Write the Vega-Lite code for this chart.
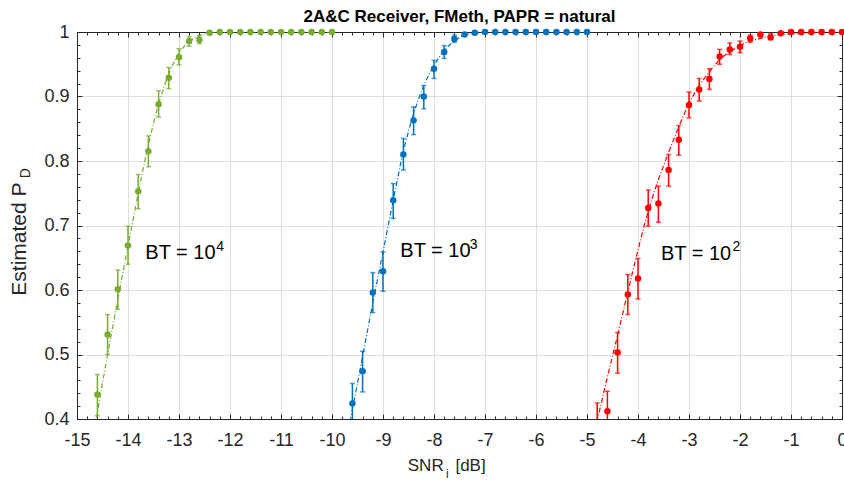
{
  "$schema": "https://vega.github.io/schema/vega-lite/v6.json",
  "width": 765,
  "height": 387,
  "autosize": "none",
  "padding": {"left": 77, "top": 32, "right": 2, "bottom": 64},
  "background": "white",
  "config": {"view": {"stroke": null}, "font": "Liberation Sans"},
  "title": {"text": "2A&C Receiver, FMeth, PAPR = natural", "fontSize": 17, "fontWeight": "bold", "font": "Liberation Sans", "color": "#000000", "anchor": "middle", "offset": -3},
  "datasets": {
    "points": [
      {"bt": "1e4", "snr": -14.6, "pd": 0.438, "lo": 0.405, "hi": 0.469},
      {"bt": "1e4", "snr": -14.4, "pd": 0.531, "lo": 0.500, "hi": 0.562},
      {"bt": "1e4", "snr": -14.2, "pd": 0.601, "lo": 0.570, "hi": 0.631},
      {"bt": "1e4", "snr": -14.0, "pd": 0.669, "lo": 0.640, "hi": 0.699},
      {"bt": "1e4", "snr": -13.8, "pd": 0.753, "lo": 0.726, "hi": 0.779},
      {"bt": "1e4", "snr": -13.6, "pd": 0.815, "lo": 0.791, "hi": 0.839},
      {"bt": "1e4", "snr": -13.4, "pd": 0.888, "lo": 0.868, "hi": 0.909},
      {"bt": "1e4", "snr": -13.2, "pd": 0.929, "lo": 0.912, "hi": 0.945},
      {"bt": "1e4", "snr": -13.0, "pd": 0.961, "lo": 0.949, "hi": 0.974},
      {"bt": "1e4", "snr": -12.8, "pd": 0.986, "lo": 0.978, "hi": 0.993},
      {"bt": "1e4", "snr": -12.6, "pd": 0.988, "lo": 0.982, "hi": 0.995},
      {"bt": "1e4", "snr": -12.4, "pd": 0.999},
      {"bt": "1e4", "snr": -12.2, "pd": 1.0},
      {"bt": "1e4", "snr": -12.0, "pd": 1.0},
      {"bt": "1e4", "snr": -11.8, "pd": 1.0},
      {"bt": "1e4", "snr": -11.6, "pd": 1.0},
      {"bt": "1e4", "snr": -11.4, "pd": 1.0},
      {"bt": "1e4", "snr": -11.2, "pd": 1.0},
      {"bt": "1e4", "snr": -11.0, "pd": 1.0},
      {"bt": "1e4", "snr": -10.8, "pd": 1.0},
      {"bt": "1e4", "snr": -10.6, "pd": 1.0},
      {"bt": "1e4", "snr": -10.4, "pd": 1.0},
      {"bt": "1e4", "snr": -10.2, "pd": 1.0},
      {"bt": "1e4", "snr": -10.0, "pd": 1.0},
      {"bt": "1e3", "snr": -9.6, "pd": 0.424, "lo": 0.395, "hi": 0.455},
      {"bt": "1e3", "snr": -9.4, "pd": 0.474, "lo": 0.442, "hi": 0.505},
      {"bt": "1e3", "snr": -9.2, "pd": 0.596, "lo": 0.565, "hi": 0.627},
      {"bt": "1e3", "snr": -9.0, "pd": 0.629, "lo": 0.598, "hi": 0.659},
      {"bt": "1e3", "snr": -8.8, "pd": 0.739, "lo": 0.711, "hi": 0.765},
      {"bt": "1e3", "snr": -8.6, "pd": 0.810, "lo": 0.786, "hi": 0.835},
      {"bt": "1e3", "snr": -8.4, "pd": 0.863, "lo": 0.841, "hi": 0.884},
      {"bt": "1e3", "snr": -8.2, "pd": 0.900, "lo": 0.881, "hi": 0.917},
      {"bt": "1e3", "snr": -8.0, "pd": 0.943, "lo": 0.928, "hi": 0.956},
      {"bt": "1e3", "snr": -7.8, "pd": 0.969, "lo": 0.959, "hi": 0.979},
      {"bt": "1e3", "snr": -7.6, "pd": 0.989, "lo": 0.984, "hi": 0.995},
      {"bt": "1e3", "snr": -7.4, "pd": 0.996},
      {"bt": "1e3", "snr": -7.2, "pd": 0.999},
      {"bt": "1e3", "snr": -7.0, "pd": 1.0},
      {"bt": "1e3", "snr": -6.8, "pd": 1.0},
      {"bt": "1e3", "snr": -6.6, "pd": 1.0},
      {"bt": "1e3", "snr": -6.4, "pd": 1.0},
      {"bt": "1e3", "snr": -6.2, "pd": 1.0},
      {"bt": "1e3", "snr": -6.0, "pd": 1.0},
      {"bt": "1e3", "snr": -5.8, "pd": 1.0},
      {"bt": "1e3", "snr": -5.6, "pd": 1.0},
      {"bt": "1e3", "snr": -5.4, "pd": 1.0},
      {"bt": "1e3", "snr": -5.2, "pd": 1.0},
      {"bt": "1e3", "snr": -5.0, "pd": 1.0},
      {"bt": "1e2", "snr": -4.8, "pd": 0.385, "lo": 0.350, "hi": 0.425},
      {"bt": "1e2", "snr": -4.6, "pd": 0.412, "lo": 0.380, "hi": 0.443},
      {"bt": "1e2", "snr": -4.4, "pd": 0.503, "lo": 0.471, "hi": 0.534},
      {"bt": "1e2", "snr": -4.2, "pd": 0.593, "lo": 0.562, "hi": 0.624},
      {"bt": "1e2", "snr": -4.0, "pd": 0.618, "lo": 0.586, "hi": 0.649},
      {"bt": "1e2", "snr": -3.8, "pd": 0.727, "lo": 0.699, "hi": 0.755},
      {"bt": "1e2", "snr": -3.6, "pd": 0.734, "lo": 0.705, "hi": 0.761},
      {"bt": "1e2", "snr": -3.4, "pd": 0.786, "lo": 0.761, "hi": 0.810},
      {"bt": "1e2", "snr": -3.2, "pd": 0.833, "lo": 0.809, "hi": 0.855},
      {"bt": "1e2", "snr": -3.0, "pd": 0.887, "lo": 0.867, "hi": 0.907},
      {"bt": "1e2", "snr": -2.8, "pd": 0.911, "lo": 0.893, "hi": 0.928},
      {"bt": "1e2", "snr": -2.6, "pd": 0.927, "lo": 0.911, "hi": 0.943},
      {"bt": "1e2", "snr": -2.4, "pd": 0.962, "lo": 0.950, "hi": 0.973},
      {"bt": "1e2", "snr": -2.2, "pd": 0.973, "lo": 0.965, "hi": 0.983},
      {"bt": "1e2", "snr": -2.0, "pd": 0.977, "lo": 0.968, "hi": 0.986},
      {"bt": "1e2", "snr": -1.8, "pd": 0.990, "lo": 0.984, "hi": 0.995},
      {"bt": "1e2", "snr": -1.6, "pd": 0.996},
      {"bt": "1e2", "snr": -1.4, "pd": 0.992, "lo": 0.988, "hi": 0.997},
      {"bt": "1e2", "snr": -1.2, "pd": 0.998},
      {"bt": "1e2", "snr": -1.0, "pd": 1.0},
      {"bt": "1e2", "snr": -0.8, "pd": 1.0},
      {"bt": "1e2", "snr": -0.6, "pd": 1.0},
      {"bt": "1e2", "snr": -0.4, "pd": 1.0},
      {"bt": "1e2", "snr": -0.2, "pd": 1.0},
      {"bt": "1e2", "snr": 0.0, "pd": 1.0}
    ],
    "curves": [
      {"bt": "1e4", "snr": -14.8, "pd": 0.31},
      {"bt": "1e4", "snr": -14.6, "pd": 0.41},
      {"bt": "1e4", "snr": -14.4, "pd": 0.50},
      {"bt": "1e4", "snr": -14.2, "pd": 0.585},
      {"bt": "1e4", "snr": -14.0, "pd": 0.668},
      {"bt": "1e4", "snr": -13.8, "pd": 0.750},
      {"bt": "1e4", "snr": -13.6, "pd": 0.825},
      {"bt": "1e4", "snr": -13.4, "pd": 0.888},
      {"bt": "1e4", "snr": -13.2, "pd": 0.935},
      {"bt": "1e4", "snr": -13.0, "pd": 0.967},
      {"bt": "1e4", "snr": -12.8, "pd": 0.985},
      {"bt": "1e4", "snr": -12.6, "pd": 0.994},
      {"bt": "1e4", "snr": -12.4, "pd": 0.998},
      {"bt": "1e4", "snr": -12.2, "pd": 1.0},
      {"bt": "1e4", "snr": -10.0, "pd": 1.0},
      {"bt": "1e3", "snr": -9.8, "pd": 0.335},
      {"bt": "1e3", "snr": -9.6, "pd": 0.415},
      {"bt": "1e3", "snr": -9.4, "pd": 0.497},
      {"bt": "1e3", "snr": -9.2, "pd": 0.580},
      {"bt": "1e3", "snr": -9.0, "pd": 0.659},
      {"bt": "1e3", "snr": -8.8, "pd": 0.739},
      {"bt": "1e3", "snr": -8.6, "pd": 0.815},
      {"bt": "1e3", "snr": -8.4, "pd": 0.873},
      {"bt": "1e3", "snr": -8.2, "pd": 0.917},
      {"bt": "1e3", "snr": -8.0, "pd": 0.948},
      {"bt": "1e3", "snr": -7.8, "pd": 0.971},
      {"bt": "1e3", "snr": -7.6, "pd": 0.986},
      {"bt": "1e3", "snr": -7.4, "pd": 0.995},
      {"bt": "1e3", "snr": -7.2, "pd": 0.998},
      {"bt": "1e3", "snr": -7.0, "pd": 1.0},
      {"bt": "1e3", "snr": -5.0, "pd": 1.0},
      {"bt": "1e2", "snr": -5.0, "pd": 0.335},
      {"bt": "1e2", "snr": -4.8, "pd": 0.398},
      {"bt": "1e2", "snr": -4.6, "pd": 0.465},
      {"bt": "1e2", "snr": -4.4, "pd": 0.530},
      {"bt": "1e2", "snr": -4.2, "pd": 0.597},
      {"bt": "1e2", "snr": -4.0, "pd": 0.662},
      {"bt": "1e2", "snr": -3.8, "pd": 0.722},
      {"bt": "1e2", "snr": -3.6, "pd": 0.771},
      {"bt": "1e2", "snr": -3.4, "pd": 0.813},
      {"bt": "1e2", "snr": -3.2, "pd": 0.853},
      {"bt": "1e2", "snr": -3.0, "pd": 0.889},
      {"bt": "1e2", "snr": -2.8, "pd": 0.917},
      {"bt": "1e2", "snr": -2.6, "pd": 0.938},
      {"bt": "1e2", "snr": -2.4, "pd": 0.957},
      {"bt": "1e2", "snr": -2.2, "pd": 0.969},
      {"bt": "1e2", "snr": -2.0, "pd": 0.979},
      {"bt": "1e2", "snr": -1.8, "pd": 0.986},
      {"bt": "1e2", "snr": -1.6, "pd": 0.990},
      {"bt": "1e2", "snr": -1.4, "pd": 0.994},
      {"bt": "1e2", "snr": -1.2, "pd": 0.996},
      {"bt": "1e2", "snr": -1.0, "pd": 0.997},
      {"bt": "1e2", "snr": -0.8, "pd": 0.998},
      {"bt": "1e2", "snr": -0.6, "pd": 0.999},
      {"bt": "1e2", "snr": -0.3, "pd": 1.0},
      {"bt": "1e2", "snr": 0.0, "pd": 1.0}
    ],
    "notes": [
      {"kind": "bt", "text": "BT = 10", "snr": -13.66, "pd": 0.6487},
      {"kind": "bt", "text": "BT = 10", "snr": -8.66, "pd": 0.651},
      {"kind": "bt", "text": "BT = 10", "snr": -3.55, "pd": 0.647},
      {"kind": "sup", "text": "4", "snr": -12.27, "pd": 0.6605},
      {"kind": "sup", "text": "3", "snr": -7.30, "pd": 0.664},
      {"kind": "sup", "text": "2", "snr": -2.145, "pd": 0.6605},
      {"kind": "xtitle", "text": "SNR", "snr": -7.81, "pd": 0.319},
      {"kind": "xsub", "text": "i", "snr": -7.74, "pd": 0.309},
      {"kind": "xtitle2", "text": "[dB]", "snr": -7.58, "pd": 0.319},
      {"kind": "ytitle", "text": "Estimated P", "snr": -16.0, "pd": 0.679},
      {"kind": "ysub", "text": "D", "snr": -15.915, "pd": 0.781}
    ]
  },
  "layer": [
    {
      "data": {"name": "curves"},
      "mark": {"type": "line", "strokeWidth": 1.2, "strokeDash": [5, 2, 1, 2], "clip": true, "interpolate": "monotone"},
      "encoding": {
        "x": {"field": "snr", "type": "quantitative", "scale": {"domain": [-15, 0], "nice": false, "zero": false},
          "axis": {"orient": "bottom", "title": null,
            "values": [-15,-14.8,-14.6,-14.4,-14.2,-14,-13.8,-13.6,-13.4,-13.2,-13,-12.8,-12.6,-12.4,-12.2,-12,-11.8,-11.6,-11.4,-11.2,-11,-10.8,-10.6,-10.4,-10.2,-10,-9.8,-9.6,-9.4,-9.2,-9,-8.8,-8.6,-8.4,-8.2,-8,-7.8,-7.6,-7.4,-7.2,-7,-6.8,-6.6,-6.4,-6.2,-6,-5.8,-5.6,-5.4,-5.2,-5,-4.8,-4.6,-4.4,-4.2,-4,-3.8,-3.6,-3.4,-3.2,-3,-2.8,-2.6,-2.4,-2.2,-2,-1.8,-1.6,-1.4,-1.2,-1,-0.8,-0.6,-0.4,-0.2,0],
            "grid": true, "gridColor": "#dedede", "gridWidth": 1,
            "gridOpacity": {"condition": {"test": "abs(datum.value - round(datum.value)) < 0.001", "value": 1}, "value": 0},
            "tickSize": {"condition": {"test": "abs(datum.value - round(datum.value)) < 0.001", "value": -5}, "value": -3},
            "tickColor": "#262626", "tickWidth": 1, "domainColor": "#262626", "domainWidth": 1,
            "labelExpr": "abs(datum.value - round(datum.value)) < 0.001 ? toString(round(datum.value)) : ''",
            "labelFontSize": 18, "labelFont": "Liberation Sans", "labelColor": "#262626", "labelPadding": 17, "labelOverlap": false, "labelFlush": false}},
        "y": {"field": "pd", "type": "quantitative", "scale": {"domain": [0.4, 1], "nice": false, "zero": false},
          "axis": {"orient": "left", "title": null,
            "values": [0.4,0.42,0.44,0.46,0.48,0.5,0.52,0.54,0.56,0.58,0.6,0.62,0.64,0.66,0.68,0.7,0.72,0.74,0.76,0.78,0.8,0.82,0.84,0.86,0.88,0.9,0.92,0.94,0.96,0.98,1],
            "grid": true, "gridColor": "#dedede", "gridWidth": 1,
            "gridOpacity": {"condition": {"test": "abs(datum.value*10 - round(datum.value*10)) < 0.001", "value": 1}, "value": 0},
            "tickSize": {"condition": {"test": "abs(datum.value*10 - round(datum.value*10)) < 0.001", "value": -5}, "value": -3},
            "tickColor": "#262626", "tickWidth": 1, "domainColor": "#262626", "domainWidth": 1,
            "labelExpr": "abs(datum.value*10 - round(datum.value*10)) < 0.001 ? (abs(datum.value - 1) < 0.001 ? '1' : format(datum.value, '.1f')) : ''",
            "labelFontSize": 18, "labelFont": "Liberation Sans", "labelColor": "#262626", "labelPadding": 13, "labelOverlap": false, "labelFlush": false}},
        "color": {"field": "bt", "type": "nominal", "scale": {"domain": ["1e4", "1e3", "1e2"], "range": ["#77AC30", "#0072BD", "#FF0000"]}, "legend": null},
        "detail": {"field": "bt"}
      }
    },
    {
      "data": {"name": "points"},
      "transform": [{"filter": "isValid(datum.lo)"}],
      "mark": {"type": "rule", "strokeWidth": 1.5, "clip": true},
      "encoding": {
        "x": {"field": "snr", "type": "quantitative", "axis": null},
        "y": {"field": "lo", "type": "quantitative", "axis": null},
        "y2": {"field": "hi"},
        "color": {"field": "bt", "type": "nominal", "legend": null}
      }
    },
    {
      "data": {"name": "points"},
      "transform": [{"filter": "isValid(datum.lo)"}],
      "mark": {"type": "tick", "orient": "horizontal", "size": 5, "thickness": 1.5, "clip": true},
      "encoding": {
        "x": {"field": "snr", "type": "quantitative", "axis": null},
        "y": {"field": "lo", "type": "quantitative", "axis": null},
        "color": {"field": "bt", "type": "nominal", "legend": null}
      }
    },
    {
      "data": {"name": "points"},
      "transform": [{"filter": "isValid(datum.hi)"}],
      "mark": {"type": "tick", "orient": "horizontal", "size": 5, "thickness": 1.5, "clip": true},
      "encoding": {
        "x": {"field": "snr", "type": "quantitative", "axis": null},
        "y": {"field": "hi", "type": "quantitative", "axis": null},
        "color": {"field": "bt", "type": "nominal", "legend": null}
      }
    },
    {
      "data": {"name": "points"},
      "transform": [{"filter": "datum.pd >= 0.4"}],
      "mark": {"type": "circle", "size": 42, "opacity": 1},
      "encoding": {
        "x": {"field": "snr", "type": "quantitative",
          "axis": {"orient": "top", "title": null, "labels": false, "grid": false,
            "values": [-15,-14.8,-14.6,-14.4,-14.2,-14,-13.8,-13.6,-13.4,-13.2,-13,-12.8,-12.6,-12.4,-12.2,-12,-11.8,-11.6,-11.4,-11.2,-11,-10.8,-10.6,-10.4,-10.2,-10,-9.8,-9.6,-9.4,-9.2,-9,-8.8,-8.6,-8.4,-8.2,-8,-7.8,-7.6,-7.4,-7.2,-7,-6.8,-6.6,-6.4,-6.2,-6,-5.8,-5.6,-5.4,-5.2,-5,-4.8,-4.6,-4.4,-4.2,-4,-3.8,-3.6,-3.4,-3.2,-3,-2.8,-2.6,-2.4,-2.2,-2,-1.8,-1.6,-1.4,-1.2,-1,-0.8,-0.6,-0.4,-0.2,0],
            "tickSize": {"condition": {"test": "abs(datum.value - round(datum.value)) < 0.001", "value": -5}, "value": -3},
            "tickColor": "#262626", "domainColor": "#262626"}},
        "y": {"field": "pd", "type": "quantitative",
          "axis": {"orient": "right", "title": null, "labels": false, "grid": false,
            "values": [0.4,0.42,0.44,0.46,0.48,0.5,0.52,0.54,0.56,0.58,0.6,0.62,0.64,0.66,0.68,0.7,0.72,0.74,0.76,0.78,0.8,0.82,0.84,0.86,0.88,0.9,0.92,0.94,0.96,0.98,1],
            "tickSize": {"condition": {"test": "abs(datum.value*10 - round(datum.value*10)) < 0.001", "value": -5}, "value": -3},
            "tickColor": "#262626", "domainColor": "#262626"}},
        "color": {"field": "bt", "type": "nominal", "legend": null}
      }
    },
    {
      "data": {"name": "notes"},
      "transform": [{"filter": "datum.kind == 'bt'"}],
      "mark": {"type": "text", "align": "left", "baseline": "alphabetic", "fontSize": 20, "font": "Liberation Sans", "color": "#000000"},
      "encoding": {
        "x": {"field": "snr", "type": "quantitative", "axis": null},
        "y": {"field": "pd", "type": "quantitative", "axis": null},
        "text": {"field": "text"}
      }
    },
    {
      "data": {"name": "notes"},
      "transform": [{"filter": "datum.kind == 'sup'"}],
      "mark": {"type": "text", "align": "left", "baseline": "alphabetic", "fontSize": 14, "font": "Liberation Sans", "color": "#000000"},
      "encoding": {
        "x": {"field": "snr", "type": "quantitative", "axis": null},
        "y": {"field": "pd", "type": "quantitative", "axis": null},
        "text": {"field": "text"}
      }
    },
    {
      "data": {"name": "notes"},
      "transform": [{"filter": "datum.kind == 'xtitle'"}],
      "mark": {"type": "text", "align": "right", "baseline": "alphabetic", "fontSize": 17, "font": "Liberation Sans", "color": "#262626"},
      "encoding": {
        "x": {"field": "snr", "type": "quantitative", "axis": null},
        "y": {"field": "pd", "type": "quantitative", "axis": null},
        "text": {"field": "text"}
      }
    },
    {
      "data": {"name": "notes"},
      "transform": [{"filter": "datum.kind == 'xtitle2'"}],
      "mark": {"type": "text", "align": "left", "baseline": "alphabetic", "fontSize": 17, "font": "Liberation Sans", "color": "#262626"},
      "encoding": {
        "x": {"field": "snr", "type": "quantitative", "axis": null},
        "y": {"field": "pd", "type": "quantitative", "axis": null},
        "text": {"field": "text"}
      }
    },
    {
      "data": {"name": "notes"},
      "transform": [{"filter": "datum.kind == 'xsub'"}],
      "mark": {"type": "text", "align": "center", "baseline": "alphabetic", "fontSize": 12, "font": "Liberation Sans", "color": "#262626"},
      "encoding": {
        "x": {"field": "snr", "type": "quantitative", "axis": null},
        "y": {"field": "pd", "type": "quantitative", "axis": null},
        "text": {"field": "text"}
      }
    },
    {
      "data": {"name": "notes"},
      "transform": [{"filter": "datum.kind == 'ytitle'"}],
      "mark": {"type": "text", "align": "center", "baseline": "alphabetic", "angle": 270, "fontSize": 21, "font": "Liberation Sans", "color": "#262626"},
      "encoding": {
        "x": {"field": "snr", "type": "quantitative", "axis": null},
        "y": {"field": "pd", "type": "quantitative", "axis": null},
        "text": {"field": "text"}
      }
    },
    {
      "data": {"name": "notes"},
      "transform": [{"filter": "datum.kind == 'ysub'"}],
      "mark": {"type": "text", "align": "center", "baseline": "alphabetic", "angle": 270, "fontSize": 14, "font": "Liberation Sans", "color": "#262626"},
      "encoding": {
        "x": {"field": "snr", "type": "quantitative", "axis": null},
        "y": {"field": "pd", "type": "quantitative", "axis": null},
        "text": {"field": "text"}
      }
    }
  ],
  "resolve": {"axis": {"x": "independent", "y": "independent"}}
}
